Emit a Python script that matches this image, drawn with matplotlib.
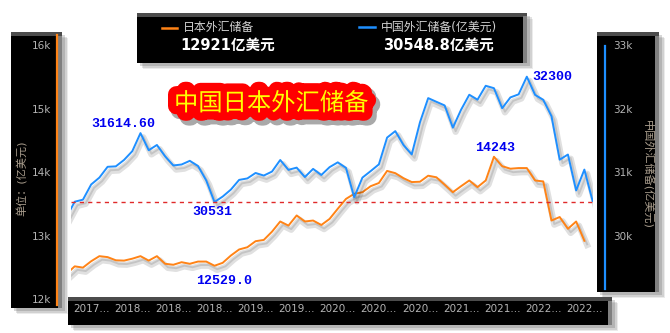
import matplotlib.pyplot as plt
import matplotlib.patheffects as pe
from matplotlib.patches import Rectangle
from matplotlib.lines import Line2D

plt.rcParams['font.family'] = ['DejaVu Sans', 'Noto Sans CJK SC']

# 月度数据 2017-04 ~ 2022-08 (亿美元)
china = [30295, 30536, 30568, 30807, 30915, 31085, 31092, 31193, 31330,
         31614.6, 31345, 31428, 31249, 31106, 31121, 31179, 31097, 30870, 30531, 30617, 30727,
         30879, 30902, 30988, 30947, 31010, 31192, 31037, 31072, 30924, 31052, 30956, 31079,
         31155, 31068, 30606, 30915, 31017, 31123, 31544, 31646, 31426, 31280, 31785, 32165,
         32107, 32050, 31700, 31982, 32218, 32140, 32359, 32321, 32006, 32176, 32224, 32502,
         32216, 32138, 31880, 31197, 31278, 30713, 31041, 30548.8]
# 日本数据少最后一个月
japan = [12400, 12520, 12500, 12600, 12680, 12665, 12615, 12610, 12640,
         12680, 12610, 12680, 12560, 12545, 12585, 12560, 12595, 12595, 12529, 12575, 12690,
         12785, 12820, 12915, 12935, 13065, 13225, 13160, 13320, 13225, 13240, 13170, 13265,
         13425, 13580, 13660, 13685, 13780, 13830, 14020, 13985, 13905, 13845, 13850, 13945,
         13920, 13805, 13685, 13780, 13870, 13765, 13870, 14243, 14095, 14055, 14065, 14065,
         13870, 13855, 13240, 13295, 13110, 13225, 12921]

china_ref = 30531  # 虚线

x_labels = ["2017...", "2018...", "2018...", "2018...", "2019...", "2019...", "2020...",
            "2020...", "2020...", "2021...", "2021...", "2022...", "2022..."]
x_label_pos = list(range(3, 64, 5))

left_ticks = [12000, 13000, 14000, 15000, 16000]
right_ticks = [30000, 31000, 32000, 33000]

# (系列, 位置, 文字, 偏移px, 对齐)
marks = [("china", 9, "31614.60", (-17, 9), "center"),
         ("china", 18, "30531", (-2, -10), "center"),
         ("japan", 18, "12529.0", (10, -15), "center"),
         ("japan", 52, "14243", (1, 9), "center"),
         ("china", 56, "32300", (6, 0), "left")]

orange = "#ff8316"
blue = "#1e8fff"
tick_gray = "#b4b4b4"

W, H = 670, 333
fig = plt.figure(figsize=(W / 100, H / 100), dpi=100)
fig.patch.set_facecolor("white")


def fx(x):
    return x / W


def fy(y):
    return 1 - y / H


def panel(x0, y0, x1, y1):
    for k, a in [(6, 0.12), (4.5, 0.18), (3, 0.25)]:
        fig.add_artist(Rectangle((fx(x0 + k), fy(y1 + k)), (x1 - x0) / W, (y1 - y0) / H,
                                 transform=fig.transFigure, color="#606060", alpha=a,
                                 lw=0, zorder=-3))
    fig.add_artist(Rectangle((fx(x0), fy(y1)), (x1 - x0) / W, (y1 - y0) / H,
                             transform=fig.transFigure, color="black", lw=0, zorder=-2))
    fig.add_artist(Rectangle((fx(x0), fy(y0 + 3.5)), (x1 - x0) / W, 3.5 / H,
                             transform=fig.transFigure, color="#4c4c4c", lw=0, zorder=-1))
    fig.add_artist(Rectangle((fx(x1 - 4), fy(y1)), 4 / W, (y1 - y0 - 3.5) / H,
                             transform=fig.transFigure, color="#808080", lw=0, zorder=-1))


panel(11, 32, 62, 308)
panel(597, 32, 659, 292)
panel(68, 297, 612, 325)
panel(137, 13, 527, 63)

fig.add_artist(Line2D([fx(56.7), fx(56.7)], [fy(35), fy(305)], color=orange, lw=1.6,
                      transform=fig.transFigure))
fig.add_artist(Line2D([fx(605), fx(605)], [fy(46), fy(289)], color=blue, lw=1.6,
                      transform=fig.transFigure))

ax = fig.add_axes([fx(71), fy(299.4), (593 - 71) / W, (299.4 - 45) / H])
ax.patch.set_visible(False)
ax2 = ax.twinx()
ax2.patch.set_visible(False)

shadow = [pe.SimpleLineShadow(offset=(2, -3), shadow_color="black", alpha=0.12, linewidth=4.5),
          pe.SimpleLineShadow(offset=(2, -2.5), shadow_color="black", alpha=0.12), pe.Normal()]
ax.plot(range(len(japan)), japan, color=orange, lw=1.4, path_effects=shadow)
ax2.plot(range(len(china)), china, color=blue, lw=1.4, path_effects=shadow)
ax2.axhline(china_ref, color="#e02a2a", lw=1, dashes=(3, 3))

ax.set_xlim(0.547, 64.05)
ax.set_ylim(12000, 16000)
ax2.set_ylim(29000, 33000)

for a in (ax, ax2):
    for s in a.spines.values():
        s.set_visible(False)

ax.set_yticks(left_ticks, [f"{v // 1000}k" for v in left_ticks])
ax2.set_yticks(right_ticks, [f"{v // 1000}k" for v in right_ticks])
ax.set_xticks(x_label_pos, x_labels)
ax.tick_params(axis="y", length=0, pad=14.4, labelcolor=tick_gray, labelsize=7.5)
ax2.tick_params(axis="y", length=0, pad=14.4, labelcolor=tick_gray, labelsize=7.5)
ax.tick_params(axis="x", length=0, pad=3.3, labelcolor=tick_gray, labelsize=7.5)

for name, i, txt, off, ha in marks:
    target = ax2 if name == "china" else ax
    v = china[i] if name == "china" else japan[i]
    target.annotate(txt, (i, v), xytext=off, textcoords="offset pixels", ha=ha, va="center",
                    color="#0000f0", fontsize=9.5, fontweight="bold", family="Liberation Mono",
                    annotation_clip=False)

fig.text(fx(22), fy(178), "单位：(亿美元)", rotation=90, color="#a89c8c", fontsize=8,
         ha="center", va="center")
fig.text(fx(646.7), fy(174), "中国外汇储备(亿美元)", rotation=-90, color="#a89c8c", fontsize=8,
         ha="center", va="center")

# 图例
fig.add_artist(Line2D([fx(162), fx(177)], [fy(27.7), fy(27.7)], color=orange, lw=1.8,
                      transform=fig.transFigure))
fig.add_artist(Line2D([fx(359), fx(375)], [fy(27.3), fy(27.3)], color=blue, lw=1.8,
                      transform=fig.transFigure))
fig.text(fx(183), fy(27.5), "日本外汇储备", color="#d2d2d2", fontsize=8.6, va="center")
fig.text(fx(381), fy(27.5), "中国外汇储备(亿美元)", color="#d2d2d2", fontsize=8.6, va="center")
fig.text(fx(180), fy(45), f"{japan[-1]:g}亿美元", color="white", fontsize=10.5,
         fontweight="bold", va="center")
fig.text(fx(382.7), fy(45), f"{china[-1]:g}亿美元", color="white", fontsize=10.5,
         fontweight="bold", va="center")

# 标题
fig.text(fx(271), fy(103.5), "中国日本外汇储备", color="#ffff00", fontsize=17.5,
         ha="center", va="center",
         path_effects=[pe.Stroke(linewidth=13, foreground="#404040", alpha=0.45, offset=(2.5, -3)),
                       pe.Stroke(linewidth=12, foreground="#ff0000"), pe.Normal()])

fig.savefig("out.png", dpi=100)
